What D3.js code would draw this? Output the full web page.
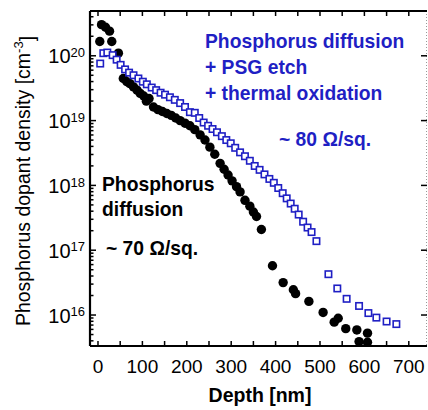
<!DOCTYPE html>
<html><head><meta charset="utf-8">
<script src="https://cdn.jsdelivr.net/npm/d3@7"></script>
<style>body{margin:0;background:#fff}svg{display:block}text{font-family:"Liberation Sans",Arial,sans-serif}</style>
</head><body><svg id="c" width="428" height="410"></svg>
<script>
// Depth [nm] and log10 of dopant density [cm^-3]
const blackDepth = [8,17,26,4,31,46,
  57,65,72,80,88,95,103,109,115,125,135,145,155,165,175,185,196,207,218,230,241,252,263,275,284,293,302,312,320,331,342,350,357,
  368,393,417,440,445,475,507,532,541,558,583,607,588,607];
const blackLog = [20.48,20.44,20.38,20.22,20.22,20.04,
  19.65,19.60,19.57,19.52,19.47,19.42,19.38,19.30,19.34,19.21,19.17,19.14,19.11,19.08,19.04,19.00,18.96,18.92,18.86,18.78,18.70,18.59,18.48,18.34,18.25,18.16,18.07,17.98,17.90,17.77,17.68,17.59,17.52,
  17.32,16.76,16.50,16.39,16.33,16.21,16.04,15.89,15.95,15.79,15.77,15.72,15.59,15.58];
const blueDepth = [5,12,21,33,42,51,61,70,80,91,101,110,121,131,141,151,162,173,185,196,207,218,228,238,248,258,268,279,289,299,309,320,331,342,353,364,375,386,396,406,416,425,434,443,452,462,472,481,492,
  519,539,560,588,609,627,650,672];
const blueLog = [19.88,20.04,20.05,20.01,19.94,19.86,19.79,19.74,19.70,19.65,19.60,19.56,19.51,19.47,19.43,19.40,19.36,19.32,19.27,19.21,19.13,19.12,19.04,18.97,18.92,18.87,18.82,18.76,18.70,18.65,18.58,18.51,18.45,18.38,18.30,18.24,18.17,18.10,18.04,17.96,17.88,17.80,17.72,17.64,17.55,17.44,17.35,17.28,17.14,
  16.63,16.41,16.25,16.14,16.03,15.96,15.90,15.86];
const xTicks = [0,100,200,300,400,500,600,700];
const xMinorTicks = [0,50,100,150,200,250,300,350,400,450,500,550,600,650,700];
const yDecades = [16,17,18,19,20];

const svg = d3.select('#c');
const L=90,R=427,T=11,B=346;
const x = d3.scaleLinear().domain([-18,741]).range([L,R]);
const y = d3.scaleLog().domain([Math.pow(10,15.522),Math.pow(10,20.691)]).range([B,T]);
const BLUE = '#1f1fc4';

// markers
const black = blackDepth.map((d,i)=>({d, v:Math.pow(10,blackLog[i])}));
const blue = blueDepth.map((d,i)=>({d, v:Math.pow(10,blueLog[i])}));
const g = svg.append('g');
g.selectAll('circle').data(black).join('circle')
  .attr('cx',d=>x(d.d)).attr('cy',d=>y(d.v)).attr('r',4.7).attr('fill','#000');
const s=6.4;
g.selectAll('rect').data(blue).join('rect')
  .attr('x',d=>x(d.d)-s/2).attr('y',d=>y(d.v)-s/2).attr('width',s).attr('height',s)
  .attr('fill','#fff').attr('stroke',BLUE).attr('stroke-width',1.6);

// frame
svg.append('line').attr('x1',R-0.5).attr('x2',R-0.5).attr('y1',T).attr('y2',B)
  .attr('stroke','#999').attr('stroke-width',1).attr('stroke-dasharray','1,2');
svg.append('line').attr('x1',L).attr('x2',R).attr('y1',T).attr('y2',T).attr('stroke','#000').attr('stroke-width',2);
svg.append('line').attr('x1',L).attr('x2',R).attr('y1',B).attr('y2',B).attr('stroke','#000').attr('stroke-width',2.2);
svg.append('line').attr('x1',L).attr('x2',L).attr('y1',T).attr('y2',B).attr('stroke','#000').attr('stroke-width',2.2);

// x ticks (inward), bottom and top
const xt = svg.append('g').attr('stroke','#000').attr('stroke-width',1.5);
xMinorTicks.forEach(t=>{
  const len = 5;
  xt.append('line').attr('x1',x(t)).attr('x2',x(t)).attr('y1',B).attr('y2',B-len);
  xt.append('line').attr('x1',x(t)).attr('x2',x(t)).attr('y1',T).attr('y2',T+len);
});
// y ticks
const yt = svg.append('g').attr('stroke','#000').attr('stroke-width',1.5);
const yAll = y.ticks(40).filter(v=>v>=y.domain()[0]&&v<=y.domain()[1]);
yAll.forEach(v=>{
  const lg = Math.log10(v);
  const major = Math.abs(lg-Math.round(lg))<1e-6;
  yt.append('line').attr('x1',L).attr('x2',L+(major?6:3.5)).attr('y1',y(v)).attr('y2',y(v));
  if(major) yt.append('line').attr('x1',R).attr('x2',R-6).attr('y1',y(v)).attr('y2',y(v));
});

// x tick labels
svg.append('g').selectAll('text').data(xTicks).join('text')
  .attr('x',d=>x(d)).attr('y',373).attr('text-anchor','middle')
  .attr('font-size',19).text(d=>d);
// y tick labels
yDecades.forEach(p=>{
  const t = svg.append('text').attr('x',85).attr('y',y(Math.pow(10,p))).attr('dy','0.38em')
    .attr('text-anchor','end').attr('font-size',20);
  t.append('tspan').text('10');
  t.append('tspan').attr('dy','-0.5em').attr('font-size',13).text(p);
});

// axis titles
svg.append('text').attr('x',260).attr('y',402).attr('text-anchor','middle')
  .attr('font-size',19.5).attr('font-weight','bold').text('Depth [nm]');
const yt2 = svg.append('text').attr('transform','translate(30,181) rotate(-90)')
  .attr('text-anchor','middle').attr('font-size',19.5);
yt2.append('tspan').text('Phosphorus dopant density [cm');
yt2.append('tspan').attr('dy','-0.55em').attr('font-size',13).text('-3');
yt2.append('tspan').attr('dy','0.55em').text(']');

// annotations
const ann = [
  {t:'Phosphorus diffusion', x:205, y:48, c:BLUE},
  {t:'+ PSG etch', x:205, y:74, c:BLUE},
  {t:'+ thermal oxidation', x:205, y:100, c:BLUE},
  {t:'~ 80 Ω/sq.', x:279, y:146, c:BLUE},
  {t:'Phosphorus', x:102, y:191, c:'#000'},
  {t:'diffusion', x:102, y:216, c:'#000'},
  {t:'~ 70 Ω/sq.', x:106, y:255, c:'#000'}
];
svg.append('g').selectAll('text').data(ann).join('text')
  .attr('x',d=>d.x).attr('y',d=>d.y).attr('fill',d=>d.c)
  .attr('font-size',19.3).attr('font-weight','bold').text(d=>d.t);
</script></body></html>
